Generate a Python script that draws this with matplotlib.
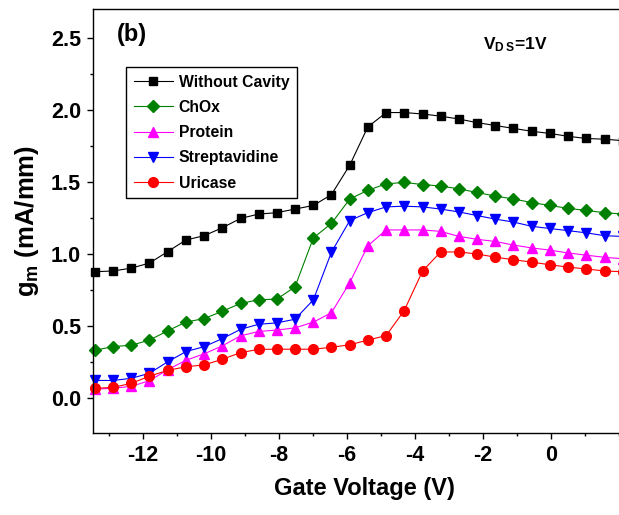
import matplotlib
matplotlib.use("Agg")
import matplotlib.pyplot as plt
from matplotlib.ticker import MultipleLocator

plt.rcParams["font.family"] = ["Liberation Sans", "DejaVu Sans"]
plt.rcParams["font.weight"] = "bold"
plt.rcParams["axes.unicode_minus"] = False
plt.rcParams["mathtext.fontset"] = "custom"
plt.rcParams["mathtext.rm"] = "Liberation Sans:bold"
plt.rcParams["mathtext.bf"] = "Liberation Sans:bold"
plt.rcParams["mathtext.default"] = "bf"

# gate voltage (V)
vg = [-13.40, -12.87, -12.33, -11.80, -11.26, -10.73, -10.19, -9.66, -9.12, -8.59,
      -8.05, -7.52, -6.98, -6.45, -5.91, -5.38, -4.84, -4.31, -3.77, -3.24,
      -2.70, -2.17, -1.63, -1.10, -0.56, -0.03, 0.51, 1.04, 1.58, 2.11]

# transconductance g_m (mA/mm)
without_cavity = [0.875, 0.88, 0.90, 0.935, 1.015, 1.095, 1.125, 1.18, 1.245, 1.275,
                  1.285, 1.31, 1.335, 1.41, 1.615, 1.88, 1.98, 1.98, 1.97, 1.955,
                  1.935, 1.91, 1.89, 1.87, 1.85, 1.835, 1.815, 1.80, 1.795, 1.785]
chox = [0.33, 0.355, 0.365, 0.40, 0.465, 0.525, 0.55, 0.60, 0.655, 0.68,
        0.685, 0.77, 1.11, 1.21, 1.38, 1.44, 1.485, 1.495, 1.48, 1.47,
        1.45, 1.425, 1.40, 1.38, 1.355, 1.335, 1.315, 1.30, 1.285, 1.275]
protein = [0.06, 0.065, 0.08, 0.118, 0.195, 0.26, 0.305, 0.36, 0.43, 0.46,
           0.47, 0.485, 0.525, 0.59, 0.80, 1.055, 1.165, 1.165, 1.165, 1.155,
           1.12, 1.10, 1.085, 1.06, 1.04, 1.025, 1.005, 0.99, 0.975, 0.965]
streptavidine = [0.12, 0.12, 0.135, 0.17, 0.25, 0.32, 0.355, 0.41, 0.475, 0.51,
                 0.52, 0.545, 0.68, 1.01, 1.23, 1.285, 1.325, 1.33, 1.325, 1.31,
                 1.29, 1.265, 1.24, 1.22, 1.19, 1.175, 1.16, 1.145, 1.125, 1.12]
uricase = [0.065, 0.072, 0.10, 0.15, 0.19, 0.215, 0.228, 0.267, 0.313, 0.336,
           0.337, 0.337, 0.337, 0.35, 0.368, 0.40, 0.432, 0.605, 0.88, 1.012,
           1.012, 0.998, 0.976, 0.958, 0.942, 0.923, 0.907, 0.894, 0.88, 0.875]

x_ticks = [-12, -10, -8, -6, -4, -2, 0]

series = [
    ("Without Cavity", without_cavity, "black", "s", 6.0),
    ("ChOx", chox, "#008000", "D", 6.0),
    ("Protein", protein, "#ff00ff", "^", 7.5),
    ("Streptavidine", streptavidine, "#0000ff", "v", 7.5),
    ("Uricase", uricase, "#ff0000", "o", 7.0),
]

fig = plt.figure(figsize=(6.19, 5.15), dpi=100)
# axes run past the right edge: the reference is cropped there
ax = fig.add_axes([0.1502, 0.1586, 0.877, 0.8234])

for label, vals, col, mk, ms in series:
    ax.plot(vg, vals, color=col, lw=0.8, marker=mk, ms=ms,
            mfc=col, mec=col, label=label, clip_on=False)

ax.set_xlim(-13.46, 2.5)
ax.set_ylim(-0.247, 2.697)
ax.set_xticks(x_ticks)
ax.xaxis.set_minor_locator(MultipleLocator(1))
ax.yaxis.set_major_locator(MultipleLocator(0.5))
ax.yaxis.set_minor_locator(MultipleLocator(0.25))
ax.tick_params(which="both", direction="out", width=1.0, labelsize=15.5, pad=4)
ax.tick_params(which="major", length=4.5)
ax.tick_params(which="minor", length=2.2)
for sp in ax.spines.values():
    sp.set_linewidth(1.0)

ax.set_xlabel("Gate Voltage (V)", fontsize=17, fontweight="bold", labelpad=8)
ax.set_ylabel(r"g$_{\mathbf{m}}$ (mA/mm)", fontsize=18.5, fontweight="bold", labelpad=7)

ax.text(-12.76, 2.52, "(b)", fontsize=17, fontweight="bold", va="center", ha="left")
ax.text(-1.05, 2.45, r"V$_{\mathbf{D\,S}}$=1V", fontsize=12.5, fontweight="bold",
        va="center", ha="center")

leg = ax.legend(loc="upper left", bbox_to_anchor=(0.0608, 0.864), fontsize=11.3,
                numpoints=1, handlelength=2.5, handletextpad=0.35, labelspacing=0.65,
                borderpad=0.5, borderaxespad=0.0, fancybox=False, framealpha=1.0,
                edgecolor="black")
leg.get_frame().set_linewidth(1.0)

fig.savefig("out.png", dpi=100)
